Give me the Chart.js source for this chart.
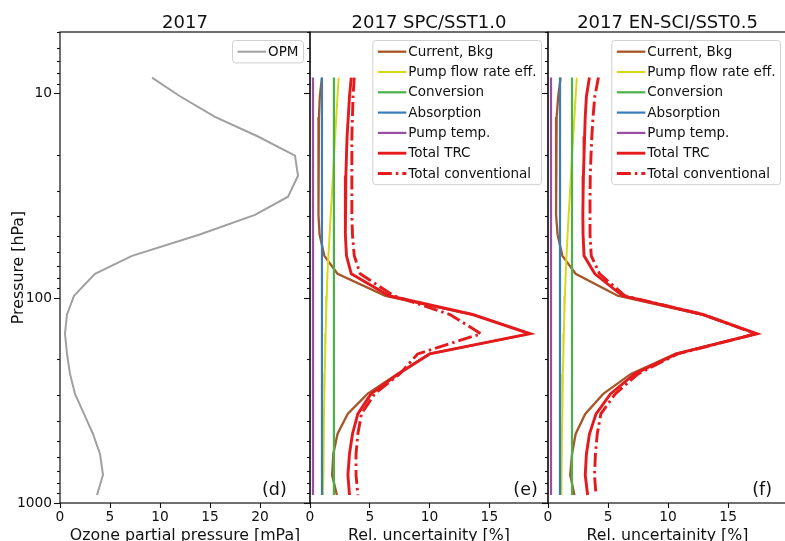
<!DOCTYPE html>
<html>
<head>
<meta charset="utf-8">
<script src="https://cdn.jsdelivr.net/npm/chart.js@4.4.1/dist/chart.umd.min.js"></script>
<style>
  html, body { margin: 0; padding: 0; background: #ffffff; }
  #fig { position: relative; width: 785px; height: 541px; overflow: hidden; background: #ffffff; }
  #fig canvas { position: absolute; left: 0; top: 0; }
</style>
</head>
<body>
<div id="fig">
  <canvas id="cd" width="800" height="560" style="width:800px;height:560px"></canvas>
  <canvas id="ce" width="800" height="560" style="width:800px;height:560px"></canvas>
  <canvas id="cf" width="800" height="560" style="width:800px;height:560px"></canvas>
</div>
<script>
// Sounding levels (hPa), shared by every profile
const pressure = [8.35, 10.3, 13.0, 16.2, 20.1, 25.2, 31.9, 39.1, 48.9, 62.0, 75.9,
                  97.2, 120, 149, 187, 234, 293, 367, 460, 576, 730, 914];

// Ozone partial pressure profile (mPa)
const opm = [9.2, 12.0, 15.5, 19.8, 23.5, 23.8, 22.8, 19.5, 13.9, 7.2, 3.5,
             1.4, 0.7, 0.5, 0.7, 1.0, 1.5, 2.4, 3.3, 4.0, 4.3, 3.7];

// Relative uncertainty components (%), SPC / SST1.0
const spcCurrentBkg = [1.0, 0.82, 0.75, 0.72, 0.7, 0.7, 0.7, 0.72, 0.8, 1.2, 2.3,
                       6.3, 13.6, 18.4, 10.0, 7.3, 4.8, 3.15, 2.3, 1.95, 1.85, 2.25];
const spcPumpFlow   = [2.4, 2.3, 2.2, 2.1, 2.01, 1.92, 1.82, 1.73, 1.64, 1.54, 1.46,
                       1.4, 1.35, 1.31, 1.27, 1.23, 1.2, 1.17, 1.15, 1.12, 1.1, 1.08];
const spcConversion = [2.0, 2.0, 2.0, 2.0, 2.0, 2.0, 2.0, 2.0, 2.0, 2.0, 2.0,
                       2.0, 2.0, 2.0, 2.0, 2.0, 2.0, 2.0, 2.0, 2.0, 2.0, 2.0];
const spcAbsorption = [1.0, 1.0, 1.0, 1.0, 1.0, 1.0, 1.0, 1.0, 1.0, 1.0, 1.0,
                       1.0, 1.0, 1.0, 1.0, 1.0, 1.0, 1.0, 1.0, 1.0, 1.0, 1.0];
const spcPumpTemp   = [0.25, 0.25, 0.25, 0.25, 0.25, 0.25, 0.25, 0.25, 0.25, 0.25, 0.25,
                       0.25, 0.25, 0.25, 0.25, 0.25, 0.25, 0.25, 0.25, 0.25, 0.25, 0.25];
const spcTotalTRC   = [3.45, 3.3, 3.2, 3.1, 3.05, 3.0, 2.95, 2.95, 2.97, 3.05, 3.45,
                       6.6, 13.6, 18.4, 10.0, 7.4, 5.1, 4.0, 3.55, 3.3, 3.17, 3.3];
const spcTotalConv  = [3.7, 3.6, 3.55, 3.5, 3.5, 3.5, 3.5, 3.5, 3.55, 3.7, 4.2,
                       7.0, 11.7, 14.3, 9.0, 7.5, 5.4, 4.3, 4.0, 3.85, 3.85, 4.0];

// Relative uncertainty components (%), EN-SCI / SST0.5
const ensCurrentBkg = [1.05, 0.85, 0.72, 0.68, 0.67, 0.67, 0.67, 0.68, 0.8, 1.2, 2.3,
                       5.8, 12.8, 17.3, 10.6, 6.9, 4.6, 3.1, 2.3, 2.0, 1.85, 2.2];
const ensPumpFlow   = [2.4, 2.3, 2.2, 2.1, 2.0, 1.91, 1.81, 1.72, 1.63, 1.54, 1.47,
                       1.41, 1.36, 1.32, 1.28, 1.24, 1.21, 1.18, 1.16, 1.13, 1.11, 1.1];
const ensConversion = [2.0, 2.0, 2.0, 2.0, 2.0, 2.0, 2.0, 2.0, 2.0, 2.0, 2.0,
                       2.0, 2.0, 2.0, 2.0, 2.0, 2.0, 2.0, 2.0, 2.0, 2.0, 2.0];
const ensAbsorption = [1.0, 1.0, 1.0, 1.0, 1.0, 1.0, 1.0, 1.0, 1.0, 1.0, 1.0,
                       1.0, 1.0, 1.0, 1.0, 1.0, 1.0, 1.0, 1.0, 1.0, 1.0, 1.0];
const ensPumpTemp   = [0.25, 0.25, 0.25, 0.25, 0.25, 0.25, 0.25, 0.25, 0.25, 0.25, 0.25,
                       0.25, 0.25, 0.25, 0.25, 0.25, 0.25, 0.25, 0.25, 0.25, 0.25, 0.25];
const ensTotalTRC   = [3.45, 3.2, 3.1, 3.05, 3.0, 2.95, 2.92, 2.9, 2.92, 3.0, 3.9,
                       6.2, 12.9, 17.4, 10.7, 7.2, 5.2, 4.0, 3.45, 3.2, 3.1, 3.3];
const ensTotalConv  = [4.2, 3.9, 3.75, 3.65, 3.58, 3.52, 3.5, 3.5, 3.5, 3.6, 4.3,
                       6.4, 12.9, 17.3, 10.8, 7.5, 5.6, 4.4, 4.1, 3.95, 3.87, 4.0];

// Axis ticks
const yTicks = [5, 6, 7, 8, 9, 10, 20, 30, 40, 50, 60, 70, 80, 90,
                100, 200, 300, 400, 500, 600, 700, 800, 900, 1000];
const yMajorTicks = [10, 100, 1000];
const xTicksOzone = [0, 5, 10, 15, 20];
const xTicksRel = [0, 5, 10, 15];

// Series names
const componentLabels = ['Current, Bkg', 'Pump flow rate eff.', 'Conversion', 'Absorption',
                         'Pump temp.', 'Total TRC', 'Total conventional'];

const FONT = 'DejaVu Sans';
const INK = '#111111';
const COLORS = ['#a65628', '#d8d81a', '#4daf4a', '#377eb8', '#984ea3', '#e41a1c', '#e41a1c'];
const WIDTHS = [2.3, 2.0, 2.2, 2.2, 2.2, 2.9, 2.9];
const DASH_DOT = [14, 4, 2.5, 4];

function profile(label, values, color, width, dash) {
  return {
    label,
    data: values.map((v, i) => ({ x: v, y: pressure[i] })),
    borderColor: color,
    backgroundColor: color,
    borderWidth: width,
    borderDash: dash || [],
    showLine: true,
    fill: false,
    pointRadius: 0,
    pointHoverRadius: 0,
    tension: 0
  };
}

function componentSet(series) {
  const n = series.length;
  return series.map((vals, i) => {
    const ds = profile(componentLabels[i], vals, COLORS[i], WIDTHS[i], i === 6 ? DASH_DOT : null);
    ds.order = n - i; // later series drawn on top
    return ds;
  });
}

// Axes frame on all four sides
const framePlugin = {
  id: 'frame',
  afterDatasetsDraw(chart) {
    const { ctx, chartArea: a } = chart;
    ctx.save();
    ctx.strokeStyle = INK;
    ctx.lineWidth = 1.2;
    ctx.strokeRect(a.left, a.top, a.right - a.left, a.bottom - a.top);
    ctx.restore();
  }
};

// Framed legend in the upper-right corner plus the panel letter
const boxLegendPlugin = {
  id: 'boxLegend',
  afterDraw(chart, args, o) {
    const { ctx, chartArea: a } = chart;
    const items = chart.data.datasets;
    ctx.save();
    ctx.font = o.fontSize + 'px "' + FONT + '"';
    const textW = Math.max(...items.map(d => ctx.measureText(d.label).width));
    const w = o.pad + o.sample + o.gap + textW + o.pad;
    const h = 2 * o.rowHalf + (items.length - 1) * o.pitch;
    const x = a.right - o.inset - w;
    const y = a.top + o.insetTop;
    ctx.beginPath();
    ctx.roundRect(x, y, w, h, 3);
    ctx.fillStyle = 'rgba(255,255,255,0.8)';
    ctx.fill();
    ctx.strokeStyle = '#d0d0d0';
    ctx.lineWidth = 1;
    ctx.stroke();
    items.forEach((d, i) => {
      const cy = y + o.rowHalf + i * o.pitch;
      ctx.strokeStyle = d.borderColor;
      ctx.lineWidth = d.borderWidth;
      ctx.setLineDash(d.borderDash || []);
      ctx.beginPath();
      ctx.moveTo(x + o.pad, cy);
      ctx.lineTo(x + o.pad + o.sample, cy);
      ctx.stroke();
      ctx.setLineDash([]);
      ctx.fillStyle = INK;
      ctx.textAlign = 'left';
      ctx.textBaseline = 'middle';
      ctx.fillText(d.label, x + o.pad + o.sample + o.gap, cy + 0.5);
    });
    // panel letter
    const xs = chart.scales.x;
    ctx.font = o.tagSize + 'px "' + FONT + '"';
    ctx.fillStyle = INK;
    ctx.textAlign = 'left';
    ctx.textBaseline = 'middle';
    ctx.fillText(o.tag, xs.getPixelForValue(o.tagX), a.bottom - 13);
    ctx.restore();
  }
};

function makePanel(cfg) {
  const yAxisWidth = cfg.yLabels ? 60 : 6;
  return new Chart(document.getElementById(cfg.canvas), {
    type: 'scatter',
    data: { datasets: cfg.datasets },
    plugins: [framePlugin, boxLegendPlugin],
    options: {
      responsive: false,
      devicePixelRatio: 1,
      animation: false,
      events: [],
      layout: {
        padding: { left: cfg.left - yAxisWidth, top: 0, right: 800 - cfg.right, bottom: 12 }
      },
      plugins: {
        legend: { display: false },
        tooltip: { enabled: false },
        title: {
          display: true,
          text: cfg.title,
          fullSize: false,
          color: INK,
          font: { family: FONT, size: 18, weight: 'normal', lineHeight: 1.0 },
          padding: { top: 14, bottom: 0 }
        },
        boxLegend: {
          fontSize: 13.5, pad: 5, sample: 28.5, gap: 2, rowHalf: 11.2, pitch: 20.3,
          inset: 6.5, insetTop: 8.5, tag: cfg.tag, tagX: cfg.tagX, tagSize: 17.5
        }
      },
      scales: {
        x: {
          type: 'linear',
          position: 'bottom',
          min: 0,
          max: cfg.xMax,
          afterBuildTicks: s => { s.ticks = cfg.xTicks.map(v => ({ value: v })); },
          afterFit: s => { s.height = 45; },
          border: { display: false },
          grid: { drawOnChartArea: false, drawTicks: true, tickLength: 5, tickWidth: 1.1, tickColor: INK },
          ticks: {
            autoSkip: false, maxRotation: 0, padding: 1, color: INK,
            font: { family: FONT, size: 13.8 },
            callback: v => String(v)
          },
          title: {
            display: true, text: cfg.xTitle, color: INK,
            font: { family: FONT, size: 15.8 },
            padding: { top: 0, bottom: 3 }
          }
        },
        y: {
          type: 'logarithmic',
          position: 'left',
          reverse: true,
          min: 5,
          max: 1000,
          afterBuildTicks: s => { s.ticks = yTicks.map(v => ({ value: v, major: yMajorTicks.includes(v) })); },
          afterFit: s => { s.width = yAxisWidth; },
          border: { display: false },
          grid: {
            drawOnChartArea: false, drawTicks: true, tickLength: 6, tickWidth: 1.1, tickColor: INK,
            tickBorderDash: [6, 100],
            tickBorderDashOffset: c => (c.tick && yMajorTicks.includes(c.tick.value)) ? 0 : 103
          },
          ticks: {
            display: cfg.yLabels,
            autoSkip: false, padding: 2, color: INK,
            font: { family: FONT, size: 13.8 },
            callback: v => yMajorTicks.includes(v) ? String(v) : ''
          },
          title: {
            display: cfg.yLabels, text: 'Pressure [hPa]', color: INK,
            font: { family: FONT, size: 15.8 },
            padding: { top: 9, bottom: 0 }
          }
        }
      }
    }
  });
}

makePanel({
  canvas: 'cd', left: 60, right: 310, xMax: 25, xTicks: xTicksOzone, yLabels: true,
  title: '2017', xTitle: 'Ozone partial pressure [mPa]', tag: '(d)', tagX: 20.2,
  datasets: [profile('OPM', opm, '#a0a0a0', 2.0)]
});

makePanel({
  canvas: 'ce', left: 310, right: 548, xMax: 19.9, xTicks: xTicksRel, yLabels: false,
  title: '2017 SPC/SST1.0', xTitle: 'Rel. uncertainity [%]', tag: '(e)', tagX: 17,
  datasets: componentSet([spcCurrentBkg, spcPumpFlow, spcConversion, spcAbsorption,
                          spcPumpTemp, spcTotalTRC, spcTotalConv])
});

makePanel({
  canvas: 'cf', left: 548, right: 787, xMax: 19.9, xTicks: xTicksRel, yLabels: false,
  title: '2017 EN-SCI/SST0.5', xTitle: 'Rel. uncertainity [%]', tag: '(f)', tagX: 17,
  datasets: componentSet([ensCurrentBkg, ensPumpFlow, ensConversion, ensAbsorption,
                          ensPumpTemp, ensTotalTRC, ensTotalConv])
});
</script>
</body>
</html>
